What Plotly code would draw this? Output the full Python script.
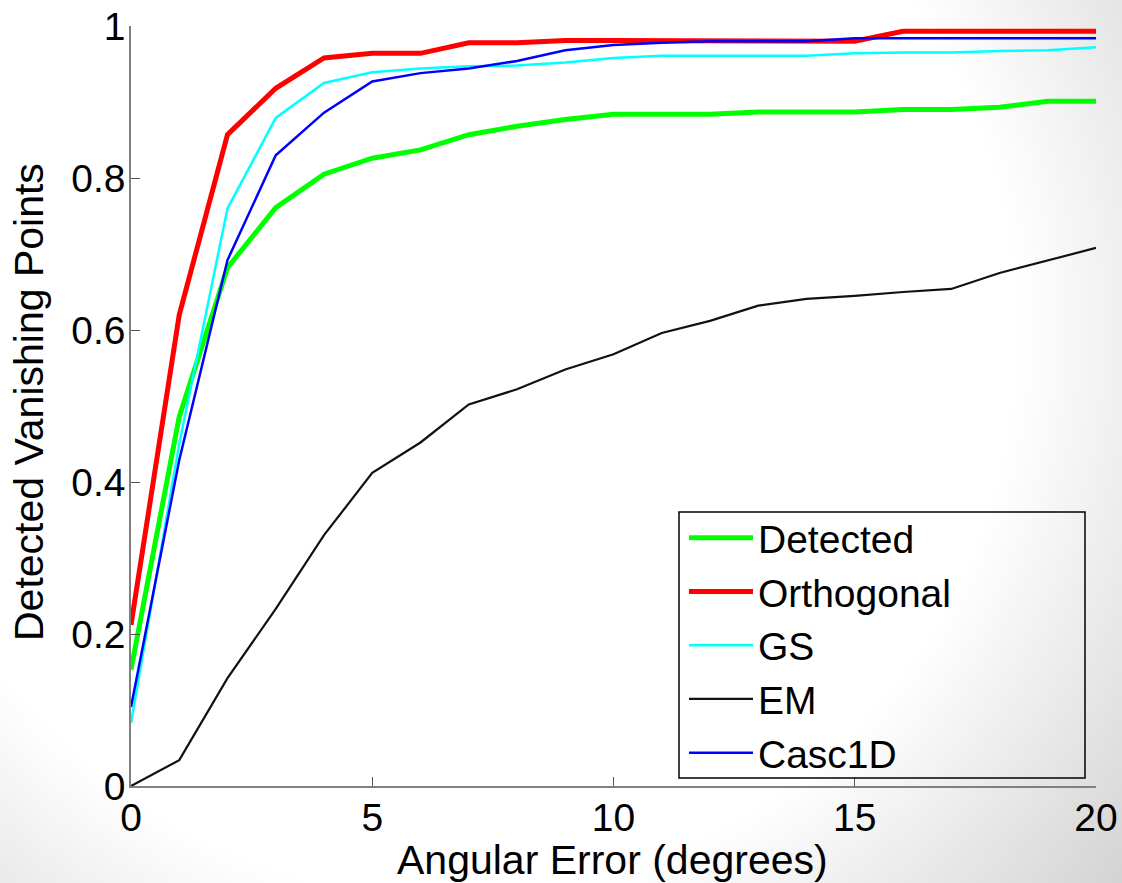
import base64
import struct
import zlib

import numpy as np
import plotly.graph_objects as go

# ---------------- data ----------------
angular_error = list(range(0, 21))

detected = [0.153, 0.486, 0.682, 0.761, 0.805, 0.826, 0.837, 0.857, 0.868, 0.877,
            0.884, 0.884, 0.884, 0.887, 0.887, 0.887, 0.890, 0.890, 0.893, 0.901, 0.901]
orthogonal = [0.212, 0.620, 0.857, 0.918, 0.958, 0.964, 0.964, 0.978, 0.978, 0.981,
              0.981, 0.981, 0.981, 0.981, 0.981, 0.980, 0.993, 0.993, 0.993, 0.993, 0.993]
gs = [0.083, 0.450, 0.760, 0.879, 0.925, 0.939, 0.944, 0.947, 0.948, 0.952,
      0.958, 0.961, 0.961, 0.961, 0.961, 0.964, 0.965, 0.965, 0.967, 0.968, 0.972]
em = [0.000, 0.034, 0.142, 0.233, 0.330, 0.412, 0.452, 0.502, 0.522, 0.548,
      0.568, 0.596, 0.612, 0.632, 0.641, 0.645, 0.650, 0.654, 0.675, 0.692, 0.708]
casc1d = [0.104, 0.429, 0.692, 0.830, 0.886, 0.927, 0.938, 0.944, 0.954, 0.968,
          0.975, 0.978, 0.980, 0.980, 0.980, 0.984, 0.984, 0.984, 0.984, 0.984, 0.984]

x_ticks = [0, 5, 10, 15, 20]
x_tick_labels = ["0", "5", "10", "15", "20"]
y_ticks = [0, 0.2, 0.4, 0.6, 0.8, 1.0]
y_tick_labels = ["0", "0.2", "0.4", "0.6", "0.8", "1"]

series_names = ["Detected", "Orthogonal", "GS", "EM", "Casc1D"]
x_title = "Angular Error (degrees)"
y_title = "Detected Vanishing Points"

# ---------------- styling ----------------
W, H = 1122, 883
ML, MR, MT, MB = 131, 26, 26, 97
FONT = "Liberation Sans, Arial, sans-serif"
TICK_SIZE = 39
LEGEND_SIZE = 39
TITLE_SIZE = 41

styles = {
    "Detected": dict(color="#00ff00", width=5),
    "Orthogonal": dict(color="#ff0000", width=5),
    "GS": dict(color="#00ffff", width=2.5),
    "EM": dict(color="#111111", width=2.2),
    "Casc1D": dict(color="#0000ff", width=2.5),
}


def gradient_png(w, h):
    yy, xx = np.mgrid[0:h, 0:w].astype(float)
    sx = xx * (W / w)
    sy = yy * (H / h)
    r = np.sqrt((sx - 450.0) ** 2 + (sy - 330.0) ** 2)
    v = 255.0 - np.clip((r - 570.0) / 330.0, 0, 1.2) * 48.0
    v = np.clip(v, 0, 255).astype(np.uint8)
    img = np.stack([v, v, v], axis=-1)
    raw = b"".join(b"\x00" + img[i].tobytes() for i in range(h))

    def chunk(tag, data):
        c = struct.pack(">I", len(data)) + tag + data
        return c + struct.pack(">I", zlib.crc32(tag + data) & 0xFFFFFFFF)

    png = b"\x89PNG\r\n\x1a\n"
    png += chunk(b"IHDR", struct.pack(">IIBBBBB", w, h, 8, 2, 0, 0, 0))
    png += chunk(b"IDAT", zlib.compress(raw, 9))
    png += chunk(b"IEND", b"")
    return "data:image/png;base64," + base64.b64encode(png).decode()


fig = go.Figure()
for name, ys in zip(series_names, [detected, orthogonal, gs, em, casc1d]):
    fig.add_trace(go.Scatter(x=angular_error, y=ys, mode="lines", name=name,
                             line=dict(color=styles[name]["color"],
                                       width=styles[name]["width"])))

pw = W - ML - MR
ph = H - MT - MB


def px_x(p):
    return (p - ML) / pw


def px_y(p):
    return (H - MB - p) / ph


fig.update_layout(
    width=W, height=H,
    margin=dict(l=ML, r=MR, t=MT, b=MB, autoexpand=False),
    paper_bgcolor="white",
    plot_bgcolor="rgba(0,0,0,0)",
    font=dict(family=FONT, size=TICK_SIZE, color="black"),
    showlegend=True,
    legend=dict(
        x=px_x(684), xanchor="left",
        y=px_y(506), yanchor="top",
        bgcolor="rgba(0,0,0,0)",
        borderwidth=0,
        font=dict(family=FONT, size=LEGEND_SIZE, color="black"),
        itemwidth=64,
        tracegroupgap=0,
    ),
    shapes=[dict(
        type="rect", xref="paper", yref="paper",
        x0=px_x(679), x1=px_x(1085), y0=px_y(778), y1=px_y(512),
        line=dict(color="black", width=1.5), fillcolor="rgba(0,0,0,0)",
        layer="above",
    )],
    annotations=[
        dict(text=x_title, xref="paper", yref="paper",
             x=px_x(612), y=px_y(860), xanchor="center", yanchor="middle",
             showarrow=False, borderpad=0,
             font=dict(family=FONT, size=TITLE_SIZE, color="black")),
        dict(text=y_title, xref="paper", yref="paper",
             x=px_x(29), y=px_y(402), xanchor="center", yanchor="middle",
             textangle=-90, showarrow=False, borderpad=0,
             font=dict(family=FONT, size=TITLE_SIZE, color="black")),
    ],
    images=[dict(
        source=gradient_png(281, 221),
        xref="paper", yref="paper",
        x=-ML / pw, y=1 + MT / ph,
        sizex=W / pw, sizey=H / ph,
        xanchor="left", yanchor="top",
        sizing="stretch", layer="below",
    )],
)

fig.update_xaxes(
    range=[0, 20],
    tickvals=x_ticks, ticktext=x_tick_labels,
    showgrid=False, zeroline=False,
    showline=True, linecolor="#808080", linewidth=1.5,
    ticks="inside", ticklen=9, tickcolor="#555555", tickwidth=1.2,
    tickfont=dict(family=FONT, size=TICK_SIZE, color="black"),
    ticklabelstandoff=-4,
    automargin=False,
)
fig.update_yaxes(
    range=[0, 1],
    tickvals=y_ticks, ticktext=y_tick_labels,
    showgrid=False, zeroline=False,
    showline=True, linecolor="#808080", linewidth=1.5,
    ticks="inside", ticklen=9, tickcolor="#555555", tickwidth=1.2,
    tickfont=dict(family=FONT, size=TICK_SIZE, color="black"),
    ticklabelstandoff=-4,
    automargin=False,
)

fig.write_html("out.html")
